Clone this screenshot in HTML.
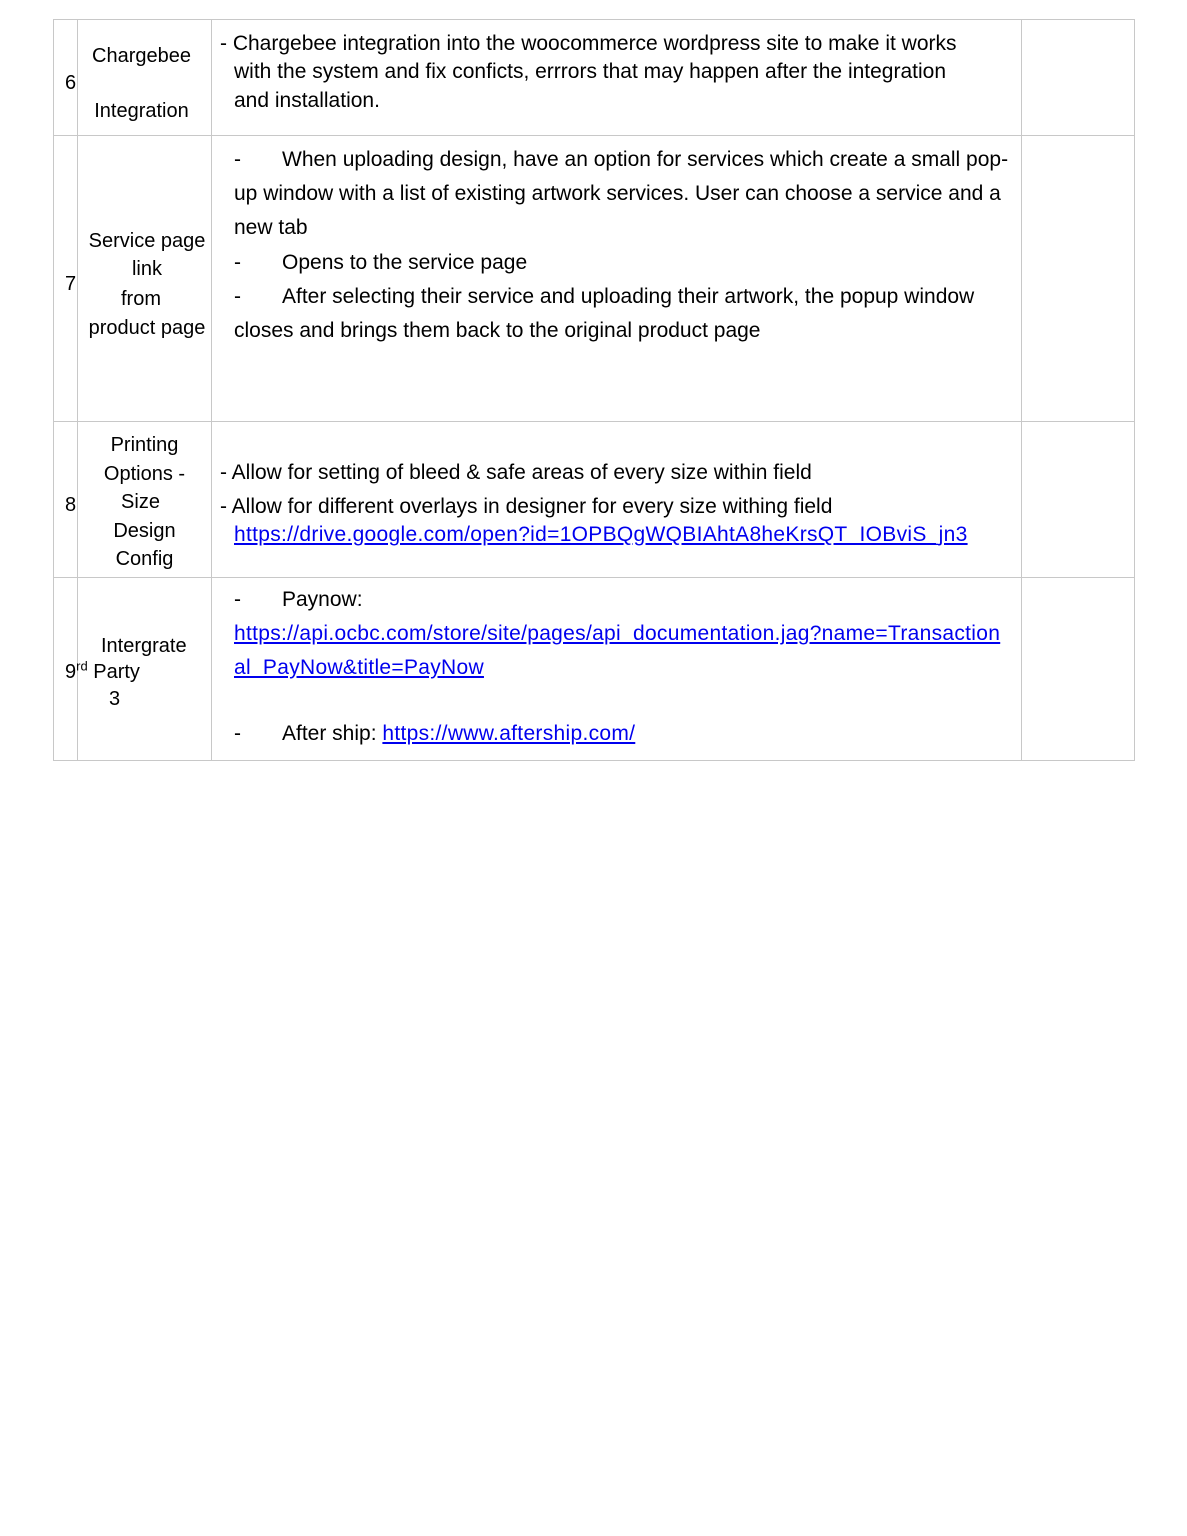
<!DOCTYPE html>
<html><head><meta charset="utf-8"><style>
body{margin:0;background:#fff;width:1187px;height:1536px;position:relative;overflow:hidden;font-family:"Liberation Sans",sans-serif;font-size:21px;color:#000}
.l{position:absolute;background:#c8c8c8}
.t{position:absolute;white-space:nowrap;line-height:26px}
.c{text-align:center}
a{color:#0000ee;text-decoration:underline;letter-spacing:0.3px}
sup{font-size:13px;line-height:0}
.s{font-size:20px}
</style></head><body>
<div class="l" style="left:53px;top:19px;width:1082px;height:1px"></div>
<div class="l" style="left:53px;top:135px;width:1082px;height:1px"></div>
<div class="l" style="left:53px;top:421px;width:1082px;height:1px"></div>
<div class="l" style="left:53px;top:577px;width:1082px;height:1px"></div>
<div class="l" style="left:53px;top:760px;width:1082px;height:1px"></div>
<div class="l" style="left:53px;top:19px;width:1px;height:742px"></div>
<div class="l" style="left:77px;top:19px;width:1px;height:742px"></div>
<div class="l" style="left:211px;top:19px;width:1px;height:742px"></div>
<div class="l" style="left:1021px;top:19px;width:1px;height:742px"></div>
<div class="l" style="left:1134px;top:19px;width:1px;height:742px"></div>

<div class="t s" style="left:65px;top:70px">6</div>
<div class="t c s" style="left:78px;width:127px;top:43px">Chargebee</div>
<div class="t c s" style="left:78px;width:127px;top:98px">Integration</div>
<div class="t" style="left:220px;top:31px">- Chargebee integration into the woocommerce wordpress site to make it works</div>
<div class="t" style="left:234px;top:59px">with the system and fix conficts, errrors that may happen after the integration</div>
<div class="t" style="left:234px;top:88px">and installation.</div>

<div class="t s" style="left:65px;top:271px">7</div>
<div class="t c s" style="left:80px;width:134px;top:228px">Service page</div>
<div class="t c s" style="left:80px;width:134px;top:256px">link</div>
<div class="t c s" style="left:74px;width:134px;top:286px">from</div>
<div class="t c s" style="left:80px;width:134px;top:315px">product page</div>
<div class="t" style="left:234px;top:147px">-</div><div class="t" style="left:282px;top:147px">When uploading design, have an option for services which create a small pop-</div>
<div class="t" style="left:234px;top:181px">up window with a list of existing artwork services. User can choose a service and a</div>
<div class="t" style="left:234px;top:215px">new tab</div>
<div class="t" style="left:234px;top:250px">-</div><div class="t" style="left:282px;top:250px">Opens to the service page</div>
<div class="t" style="left:234px;top:284px">-</div><div class="t" style="left:282px;top:284px">After selecting their service and uploading their artwork, the popup window</div>
<div class="t" style="left:234px;top:318px">closes and brings them back to the original product page</div>

<div class="t s" style="left:65px;top:492px">8</div>
<div class="t c s" style="left:78px;width:133px;top:432px">Printing</div>
<div class="t c s" style="left:78px;width:133px;top:461px">Options -</div>
<div class="t c s" style="left:74px;width:133px;top:489px">Size</div>
<div class="t c s" style="left:78px;width:133px;top:518px">Design</div>
<div class="t c s" style="left:78px;width:133px;top:546px">Config</div>
<div class="t" style="left:220px;top:460px">- Allow for setting of bleed &amp; safe areas of every size within field</div>
<div class="t" style="left:220px;top:494px">- Allow for different overlays in designer for every size withing field</div>
<div class="t" style="left:234px;top:522px"><a>https://drive.google.com/open?id=1OPBQgWQBIAhtA8heKrsQT_IOBviS_jn3</a></div>

<div class="t s" style="left:101px;top:633px">Intergrate</div>
<div class="t s" style="left:65px;top:659px">9<sup>rd</sup> Party</div>
<div class="t s" style="left:109px;top:686px">3</div>
<div class="t" style="left:234px;top:587px">-</div><div class="t" style="left:282px;top:587px">Paynow:</div>
<div class="t" style="left:234px;top:621px"><a>https://api.ocbc.com/store/site/pages/api_documentation.jag?name=Transaction</a></div>
<div class="t" style="left:234px;top:655px"><a>al_PayNow&amp;title=PayNow</a></div>
<div class="t" style="left:234px;top:721px">-</div><div class="t" style="left:282px;top:721px">After ship: <a>https://www.aftership.com/</a></div>
</body></html>
